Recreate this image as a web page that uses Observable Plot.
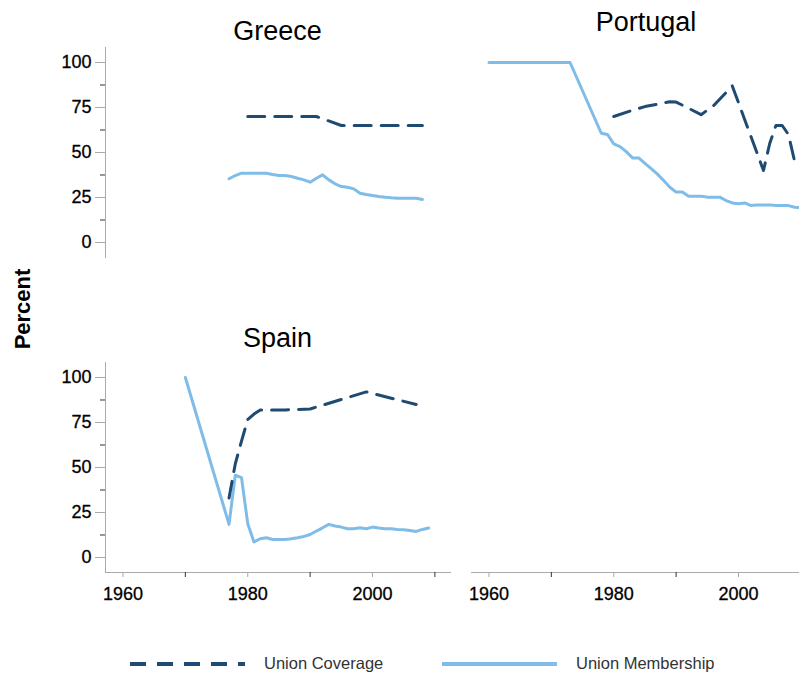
<!DOCTYPE html>
<html><head><meta charset="utf-8">
<script src="https://cdn.jsdelivr.net/npm/d3@7"></script>
<script src="https://cdn.jsdelivr.net/npm/@observablehq/plot@0.6"></script>
<style>
html,body{margin:0;padding:0;background:#fff;}
#wrap{position:relative;width:799px;height:673px;overflow:hidden;font-family:"Liberation Sans",Arial,sans-serif;}
.panel{position:absolute;}
.panel text{stroke:#000;stroke-width:0.3px;}
.title{position:absolute;font-size:27px;line-height:27px;color:#000;transform:translateX(-50%);white-space:nowrap;}
#ylab{position:absolute;left:23px;top:309px;transform:translate(-50%,-50%) rotate(-90deg);font-size:22px;font-weight:bold;line-height:22px;white-space:nowrap;}
.legtext{position:absolute;font-size:16.5px;line-height:17px;color:#333;white-space:nowrap;}
.legline{position:absolute;}
</style></head>
<body><div id="wrap"></div>
<script>
// ---- data ----
const countries = ["Greece", "Portugal", "Spain"];
const seriesNames = ["Union Coverage", "Union Membership"];
const xTicksMajor = [1960, 1980, 2000];
const xTicksMinor = [1970, 1990, 2010];
const yTicksMajor = [0, 25, 50, 75, 100];
const yTicksMinor = [12.5, 37.5, 62.5, 87.5];

const greeceCovYears = [1980, 1985, 1990, 1991, 1995, 2000, 2005, 2008];
const greeceCovVals  = [70, 70, 70, 70, 65, 65, 65, 65];
const greeceMemYears = [1977,1978,1979,1980,1981,1982,1983,1984,1985,1986,1987,1988,1989,1990,1991,1992,1993,1994,1995,1996,1997,1998,1999,2000,2001,2002,2003,2004,2005,2006,2007,2008];
const greeceMemVals  = [35.4,37.2,38.5,38.5,38.5,38.5,38.5,37.8,37.2,37.2,36.7,35.7,34.8,33.5,35.7,37.6,34.8,32.6,31.1,30.7,29.8,27.4,26.7,26.1,25.6,25.2,24.8,24.6,24.6,24.6,24.6,23.9];

const portugalCovYears = [1980,1983,1985,1987,1989,1990,1992,1994,1996,1999,2004,2005,2006,2007,2008,2009];
const portugalCovVals  = [70,73.5,75.5,76.8,78.2,78,74.6,71,76,87,40,55,65,65,60,45];
const portugalMemYears = [1960,1973,1978,1979,1980,1981,1982,1983,1984,1985,1986,1987,1988,1989,1990,1991,1992,1993,1994,1995,1996,1997,1998,1999,2000,2001,2002,2003,2004,2005,2006,2007,2008,2009,2010];
const portugalMemVals  = [100,100,60.7,60,54.8,53.3,50.5,47,47,44,41,38,34.4,30.7,28,28,25.7,25.7,25.7,25.2,25.2,25.2,23.3,22,21.5,22,20.5,20.9,20.9,20.9,20.5,20.5,20.5,19.6,19.3];

const spainCovYears = [1977,1978,1979,1980,1981,1982,1984,1986,1990,1999,2007];
const spainCovVals  = [33,52,64.7,76.6,79.7,82,82,82,82.5,92,85];
const spainMemYears = [1970,1977,1978,1979,1980,1981,1982,1983,1984,1985,1986,1987,1988,1989,1990,1991,1992,1993,1994,1995,1996,1997,1998,1999,2000,2001,2002,2003,2004,2005,2006,2007,2008,2009];
const spainMemVals  = [100,18.4,45.7,44.4,18.8,8.6,10.4,11,10,10,10,10.4,11,11.7,12.8,14.7,16.5,18.4,17.5,16.9,16,16,16.5,16,16.9,16.4,16,16,15.6,15.4,15,14.5,15.6,16.4];

// ---- style ----
const covColor = "#1f4a72";
const memColor = "#7fbde8";
const dash = "17,10";
const xDomain = [1957.2, 2012.5];

const rows = (ys, vs) => ys.map((y, i) => ({year: y, value: vs[i]}));

function yAxisMarks() {
  return [
    Plot.frame({anchor: "left", stroke: "#aaa"}),
    Plot.axisY({ticks: yTicksMajor, tickSize: 10, tickPadding: 4, stroke: "#aaa", fill: "#000", label: null}),
    Plot.axisY({ticks: yTicksMinor, tickSize: 5, tickFormat: () => "", stroke: "#333", label: null})
  ];
}
function xAxisMarks() {
  return [
    Plot.frame({anchor: "bottom", stroke: "#aaa"}),
    Plot.axisX({ticks: xTicksMajor, tickSize: 5, tickPadding: 10, tickFormat: d3.format("d"), stroke: "#aaa", fill: "#000", label: null}),
    Plot.axisX({ticks: xTicksMinor, tickSize: 5, tickFormat: () => "", stroke: "#333", label: null})
  ];
}
function seriesMarks(covY, covV, memY, memV) {
  return [
    Plot.line(rows(memY, memV), {x: "year", y: "value", stroke: memColor, strokeWidth: 3}),
    Plot.line(rows(covY, covV), {x: "year", y: "value", stroke: covColor, strokeWidth: 3, strokeDasharray: dash})
  ];
}
const baseStyle = {fontFamily: "'Liberation Sans', Arial, sans-serif", fontSize: "18px", color: "#000", background: "transparent", overflow: "visible"};

function place(svg, left, top) {
  svg.classList.add("panel");
  svg.style.left = left + "px";
  svg.style.top = top + "px";
  svg.style.maxWidth = "none";
  document.getElementById("wrap").appendChild(svg);
}

// Greece (top-left)
place(Plot.plot({
  width: 460, height: 270,
  marginLeft: 105, marginRight: 10, marginTop: 47, marginBottom: 13,
  style: baseStyle,
  x: {domain: xDomain, axis: null},
  y: {domain: [-8.33, 108.33]},
  marks: [...yAxisMarks(), ...seriesMarks(greeceCovYears, greeceCovVals, greeceMemYears, greeceMemVals)]
}), 0, 0);

// Spain (bottom-left)
place(Plot.plot({
  width: 460, height: 297,
  marginLeft: 105, marginRight: 10, marginTop: 47, marginBottom: 40,
  style: baseStyle,
  x: {domain: xDomain},
  y: {domain: [-8.33, 108.33]},
  marks: [...yAxisMarks(), ...xAxisMarks(), ...seriesMarks(spainCovYears, spainCovVals, spainMemYears, spainMemVals)]
}), 0, 315);

// Portugal (right column, x axis at the bottom row)
place(Plot.plot({
  width: 460, height: 612,
  marginLeft: 105, marginRight: 10, marginTop: 47, marginBottom: 40,
  style: baseStyle,
  x: {domain: xDomain},
  y: {domain: [-183.33, 108.33], axis: null},
  marks: [...xAxisMarks(), ...seriesMarks(portugalCovYears, portugalCovVals, portugalMemYears, portugalMemVals)]
}), 366, 0);

// titles
const wrap = document.getElementById("wrap");
const titlePos = [[277.5, 18], [646, 9], [277.5, 325]];
countries.forEach((c, i) => {
  const d = document.createElement("div");
  d.className = "title";
  d.textContent = c;
  d.style.left = titlePos[i][0] + "px";
  d.style.top = titlePos[i][1] + "px";
  wrap.appendChild(d);
});
const yl = document.createElement("div");
yl.id = "ylab"; yl.textContent = "Percent";
wrap.appendChild(yl);

// legend
const legItems = [
  {name: seriesNames[0], color: covColor, dash: "16,11", lineX: 130, textX: 264},
  {name: seriesNames[1], color: memColor, dash: null, lineX: 442, textX: 576}
];
legItems.forEach(it => {
  const ns = "http://www.w3.org/2000/svg";
  const s = document.createElementNS(ns, "svg");
  s.setAttribute("width", 115); s.setAttribute("height", 8);
  s.setAttribute("class", "legline");
  s.style.left = it.lineX + "px"; s.style.top = "660px";
  const l = document.createElementNS(ns, "line");
  l.setAttribute("x1", 0); l.setAttribute("x2", 115);
  l.setAttribute("y1", 4); l.setAttribute("y2", 4);
  l.setAttribute("stroke", it.color); l.setAttribute("stroke-width", 4);
  if (it.dash) l.setAttribute("stroke-dasharray", it.dash);
  s.appendChild(l);
  wrap.appendChild(s);
  const t = document.createElement("div");
  t.className = "legtext"; t.textContent = it.name;
  t.style.left = it.textX + "px"; t.style.top = "655px";
  wrap.appendChild(t);
});
</script>
</body></html>
